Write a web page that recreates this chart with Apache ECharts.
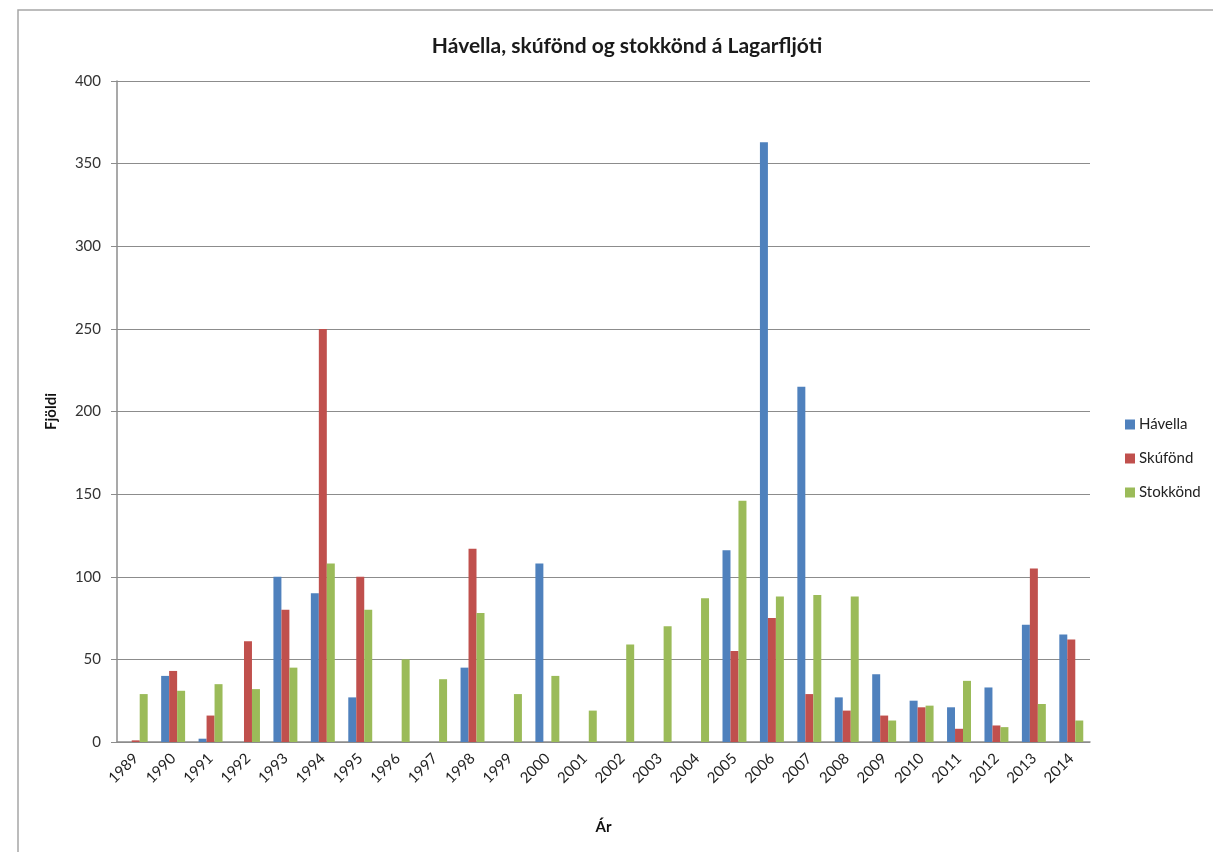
<!DOCTYPE html>
<html>
<head>
<meta charset="utf-8">
<script src="https://cdn.jsdelivr.net/npm/echarts@6/dist/echarts.min.js"></script>
<style>
html,body{margin:0;padding:0;background:#fff;}
#c{width:1213px;height:852px;}
</style>
</head>
<body>
<div id="c"></div>
<script>
const years = ['1989','1990','1991','1992','1993','1994','1995','1996','1997','1998','1999','2000','2001','2002','2003','2004','2005','2006','2007','2008','2009','2010','2011','2012','2013','2014'];
const havella = [0,40,2,0,100,90,27,0,0,45,0,108,0,0,0,0,116,363,215,27,41,25,21,33,71,65];
const skufond = [1,43,16,61,80,250,100,0,0,117,0,0,0,0,0,0,55,75,29,19,16,21,8,10,105,62];
const stokkond = [29,31,35,32,45,108,80,50,38,78,29,40,19,59,70,87,146,88,89,88,13,22,37,9,23,13];
const yTicks = [0,50,100,150,200,250,300,350,400];

const chart = echarts.init(document.getElementById('c'));
const font = 'Lato, "Open Sans", sans-serif';
chart.setOption({
  animation:false,
  backgroundColor:'#fff',
  graphic:[{type:'rect',shape:{x:18,y:10,width:1200,height:900},style:{fill:'none',stroke:'#a6a6a6',lineWidth:1.5},silent:true}],
  title:{text:'Hávella, skúfönd og stokkönd á Lagarfljóti',left:622,top:31,textAlign:'center',
    textStyle:{fontFamily:font,fontSize:21,fontWeight:'bold',color:'#1a1a1a'}},
  legend:{orient:'vertical',left:1120,top:412,itemWidth:10,itemHeight:10,itemGap:19,icon:'rect',
    textStyle:{fontFamily:font,fontSize:15,color:'#222',padding:[0,0,0,-1]}},
  grid:{left:117,right:123,top:81,bottom:110,containLabel:false},
  xAxis:{type:'category',data:years,name:'Ár',nameLocation:'middle',nameGap:78,
    nameTextStyle:{fontFamily:font,fontSize:15,fontWeight:'bold',color:'#111'},
    axisLine:{lineStyle:{color:'#8c8c8c',width:1.5}},axisTick:{show:false},
    axisLabel:{rotate:45,interval:0,fontFamily:font,fontSize:15,color:'#222',margin:14}},
  yAxis:{type:'value',min:0,max:400,interval:50,name:'Fjöldi',nameLocation:'middle',nameGap:58,
    nameTextStyle:{fontFamily:font,fontSize:15,fontWeight:'bold',color:'#111'},
    axisLine:{show:true,lineStyle:{color:'#8c8c8c',width:1.5}},
    axisTick:{show:true,inside:false,length:6,lineStyle:{color:'#8c8c8c'}},
    axisLabel:{fontFamily:font,fontSize:15,color:'#333',margin:16,
      formatter:function(v){return yTicks.indexOf(v)>=0?String(v):'';}},
    splitLine:{lineStyle:{color:'#8c8c8c',width:1.2}}},
  series:[
    {name:'Hávella',type:'bar',data:havella,itemStyle:{color:'#4F81BD'},barGap:'0%',barCategoryGap:'36%'},
    {name:'Skúfönd',type:'bar',data:skufond,itemStyle:{color:'#C0504D'},barGap:'0%',barCategoryGap:'36%'},
    {name:'Stokkönd',type:'bar',data:stokkond,itemStyle:{color:'#9BBB59'},barGap:'0%',barCategoryGap:'36%'}
  ]
});
</script>
</body>
</html>
